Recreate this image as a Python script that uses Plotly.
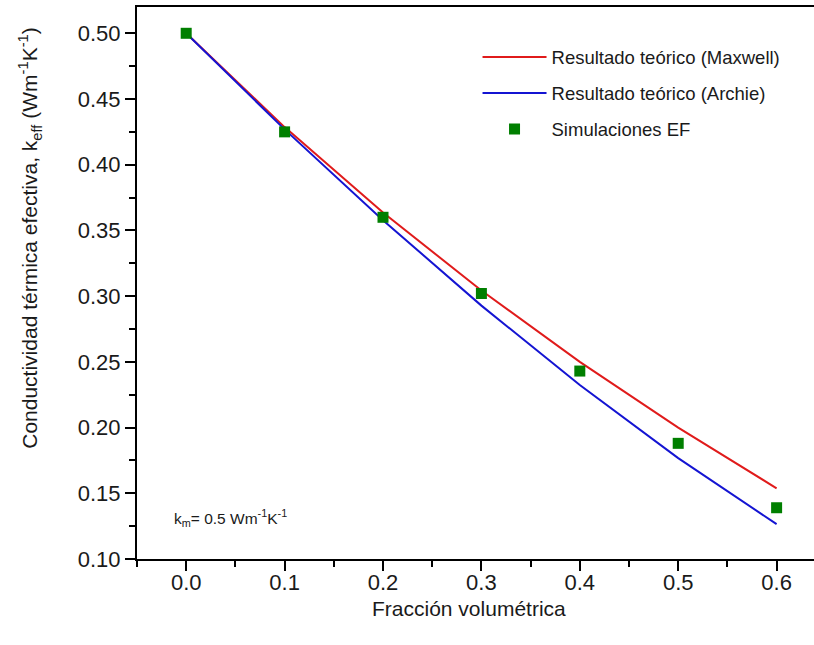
import plotly.graph_objects as go

# Data
fraccion = [0.0, 0.1, 0.2, 0.3, 0.4, 0.5, 0.6]
k_maxwell = [0.500, 0.4286, 0.3636, 0.3043, 0.2500, 0.2000, 0.1538]
k_archie = [0.500, 0.4269, 0.3578, 0.2928, 0.2324, 0.1768, 0.1265]
k_simulaciones = [0.500, 0.425, 0.360, 0.302, 0.243, 0.188, 0.139]

x_ticks = [0.0, 0.1, 0.2, 0.3, 0.4, 0.5, 0.6]
x_ticklabels = ["0.0", "0.1", "0.2", "0.3", "0.4", "0.5", "0.6"]
y_ticks = [0.10, 0.15, 0.20, 0.25, 0.30, 0.35, 0.40, 0.45, 0.50]
y_ticklabels = ["0.10", "0.15", "0.20", "0.25", "0.30", "0.35", "0.40", "0.45", "0.50"]

RED = "#e01b1b"
BLUE = "#1414d2"
GREEN = "#007f00"
FONT = "Liberation Sans, Arial, sans-serif"
TXT = "#1a1a1a"

fig = go.Figure()
fig.add_trace(go.Scatter(x=fraccion, y=k_maxwell, mode="lines",
                         line=dict(color=RED, width=2),
                         name="Resultado teórico (Maxwell)", legendgroup="a"))
fig.add_trace(go.Scatter(x=fraccion, y=k_archie, mode="lines",
                         line=dict(color=BLUE, width=2),
                         name="Resultado teórico (Archie)", legendgroup="b"))
fig.add_trace(go.Scatter(x=fraccion, y=k_simulaciones, mode="markers",
                         marker=dict(symbol="square", size=11, color=GREEN,
                                     line=dict(width=0)),
                         name="Simulaciones EF", legendgroup="c"))

fig.add_annotation(x=0.052, y=0.05, xref="paper", yref="paper",
                   xanchor="left", yanchor="bottom", showarrow=False,
                   text="k<sub>m</sub>= 0.5 Wm<sup>-1</sup>K<sup>-1</sup>",
                   font=dict(size=15.5, color=TXT, family=FONT))

fig.add_annotation(x=0.49, y=-0.066, xref="paper", yref="paper",
                   xanchor="center", yanchor="top", showarrow=False,
                   text="Fracción volumétrica",
                   font=dict(size=21, color=TXT, family=FONT))

fig.add_annotation(x=-0.158, y=0.582, xref="paper", yref="paper",
                   xanchor="center", yanchor="middle", showarrow=False,
                   textangle=-90,
                   text="Conductividad térmica efectiva, k<sub>eff</sub> (Wm<sup>-1</sup>K<sup>-1</sup>)",
                   font=dict(size=21, color=TXT, family=FONT))

fig.update_layout(
    width=814, height=645,
    margin=dict(l=137, r=0, t=7, b=86),
    paper_bgcolor="white", plot_bgcolor="white",
    font=dict(family=FONT, color=TXT),
    showlegend=True,
    legend=dict(x=0.503, y=0.943, xanchor="left", yanchor="top",
                bgcolor="rgba(0,0,0,0)", font=dict(size=18.5, color=TXT),
                tracegroupgap=9, traceorder="grouped", itemwidth=64),
    xaxis=dict(range=[-0.05, 0.638], showline=True, linecolor="#000000",
               linewidth=2, mirror=True, showgrid=False, zeroline=False,
               ticks="outside", ticklen=10, tickwidth=2, tickcolor="black",
               tickvals=x_ticks, ticktext=x_ticklabels,
               tickfont=dict(size=22, color=TXT), ticklabelstandoff=-7,
               minor=dict(dtick=0.05, tick0=0, ticks="outside", ticklen=6,
                          tickwidth=2, tickcolor="black", showgrid=False)),
    yaxis=dict(range=[0.10, 0.52], showline=True, linecolor="#000000",
               linewidth=2, showgrid=False, zeroline=False,
               ticks="outside", ticklen=10, tickwidth=2, tickcolor="black",
               tickvals=y_ticks, ticktext=y_ticklabels,
               tickfont=dict(size=22, color=TXT),
               minor=dict(dtick=0.025, tick0=0, ticks="outside", ticklen=6,
                          tickwidth=2, tickcolor="black", showgrid=False)),
)

fig.write_html("out.html")
